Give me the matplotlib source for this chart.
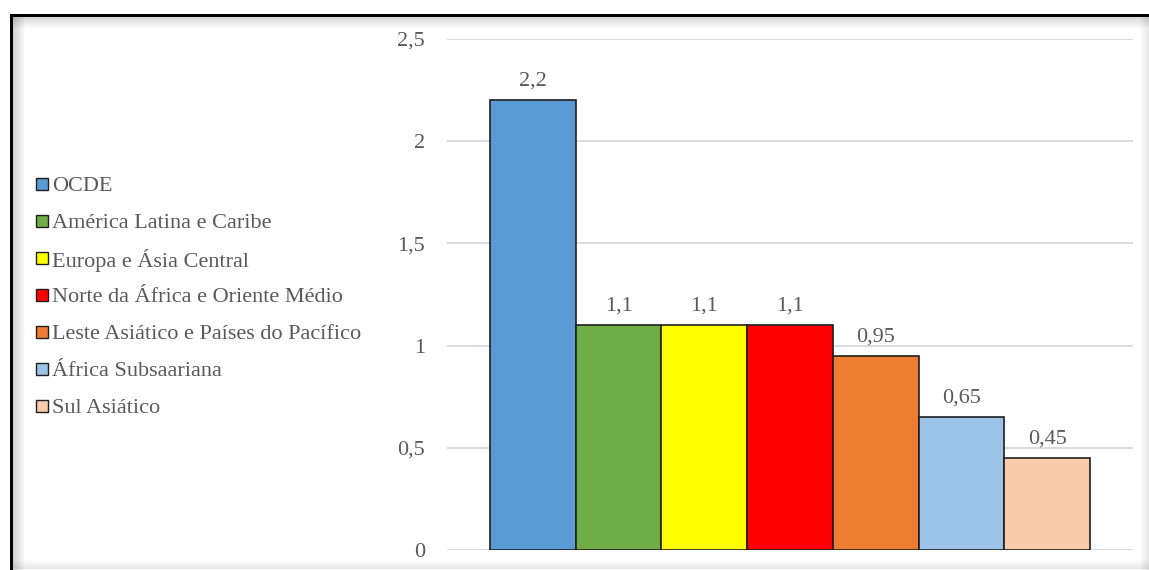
import numpy as np
import matplotlib.pyplot as plt
from matplotlib.patches import Rectangle

regions = ["OCDE", "América Latina e Caribe", "Europa e Ásia Central",
           "Norte da África e Oriente Médio",
           "Leste Asiático e Países do Pacífico", "África Subsaariana",
           "Sul Asiático"]
values = [2.2, 1.1, 1.1, 1.1, 0.95, 0.65, 0.45]
colors = ["#5b9bd5", "#70ad47", "#ffff00", "#ff0000", "#ed7d31",
          "#9dc3e6", "#f8cbad"]
yticks = [0, 0.5, 1, 1.5, 2, 2.5]

plt.rcParams['font.family'] = ['Liberation Serif', 'DejaVu Serif']
text_color = "#595959"
fs = 16


def br(v):
    s = f"{v:g}"
    return s.replace(".", ",")


W, H = 1149, 570
fig = plt.figure(figsize=(W / 100, H / 100), dpi=100)
ax = fig.add_axes([447/W, 1 - 550/H, (1133 - 447)/W, (550 - 39)/H])

x = np.arange(len(values))
bars = ax.bar(x, values, width=1.0, color=colors, edgecolor="#1f1f1f",
              linewidth=1.2, zorder=3)
for xi, v in zip(x, values):
    ax.annotate(br(v), (xi, v), xytext=(0, 7), textcoords="offset points",
                ha="center", va="bottom", fontsize=fs, color=text_color)

ax.set_xlim(-1.0, 7.0)
ax.set_ylim(0, 2.5)
ax.set_yticks(yticks)
ax.set_yticklabels([br(t) for t in yticks])
ax.set_xticks([])
ax.tick_params(axis="y", length=0, pad=16, labelsize=fs,
               labelcolor=text_color)
ax.grid(axis="y", color="#d9d9d9", linewidth=1.3, zorder=0)
for s in ax.spines.values():
    s.set_visible(False)

# legend column on the left, evenly spaced rows
for i, (name, c) in enumerate(zip(regions, colors)):
    yc = 1 - (184 + 37 * i) / H
    fig.add_artist(Rectangle((36/W, yc - 6/H), 12/W, 12/H,
                             transform=fig.transFigure, facecolor=c,
                             edgecolor="#1f1f1f", lw=1.0))
    fig.text(52/W, yc, name, fontsize=fs, color=text_color,
             ha="left", va="center_baseline")

# framed panel: dark top/left edge with soft inner shadow, grey bottom/right
for i in range(12):
    a = 0.18 * (1 - i / 12)
    fig.add_artist(Rectangle(((13 + i)/W, 0), 1/W, 1 - 16/H,
                             transform=fig.transFigure, color="black",
                             alpha=a, lw=0))
    fig.add_artist(Rectangle((12/W, 1 - (17 + i)/H), 1 - 12/W, 1/H,
                             transform=fig.transFigure, color="black",
                             alpha=a, lw=0))
for i in range(10):
    a = 0.10 * (i / 10)
    fig.add_artist(Rectangle(((1139 + i)/W, 0), 1/W, 1 - 16/H,
                             transform=fig.transFigure, color="black",
                             alpha=a, lw=0))
    fig.add_artist(Rectangle((12/W, (10 - i)/H), 1 - 12/W, 1/H,
                             transform=fig.transFigure, color="black",
                             alpha=a, lw=0))
fig.add_artist(Rectangle((10/W, 0), 3/W, 1 - 14/H, transform=fig.transFigure,
                         color="black", lw=0))
fig.add_artist(Rectangle((10/W, 1 - 17/H), 1 - 10/W, 3/H,
                         transform=fig.transFigure, color="black", lw=0))

fig.savefig("out.png", dpi=100)
